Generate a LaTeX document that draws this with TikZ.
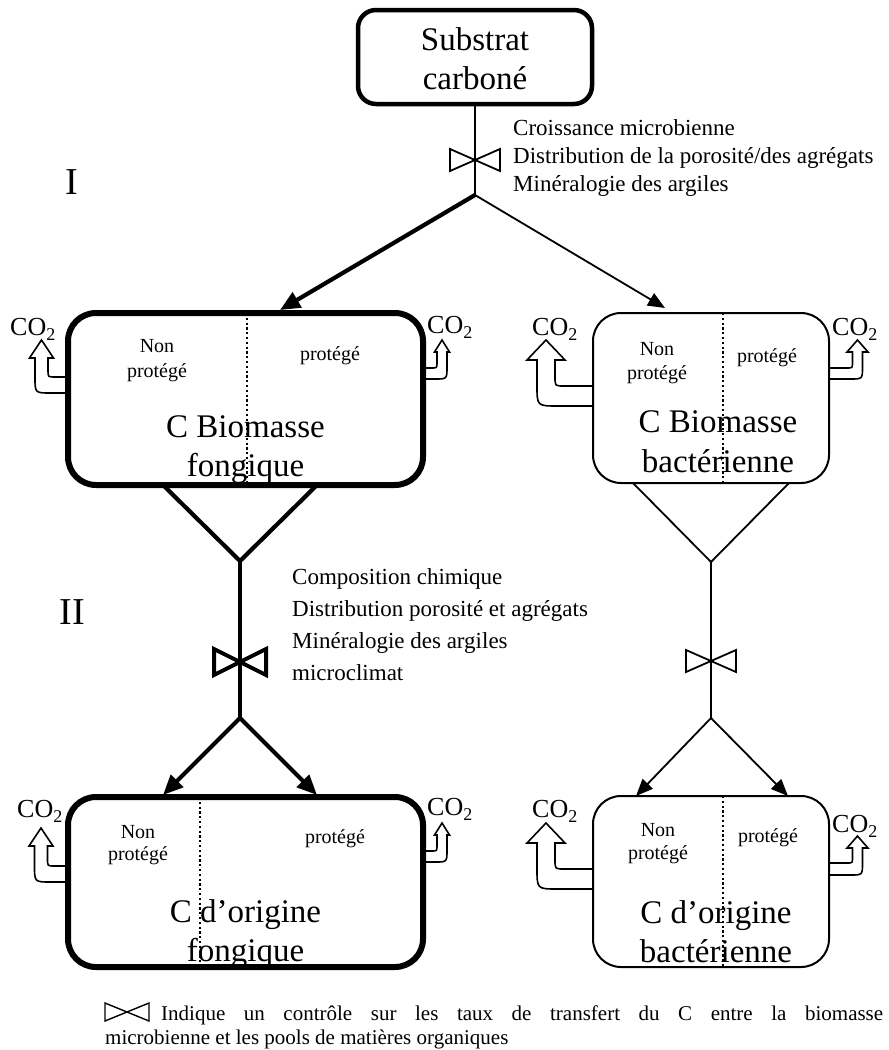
\documentclass[tikz,border=0pt]{standalone}
\usepackage{fontspec}
\setmainfont{Liberation Serif}
\usetikzlibrary{arrows.meta}
\newcommand\fsz[2]{\fontsize{#1}{#2}\selectfont}
\newcommand\cotwo[8]{%
 \pgfmathsetmacro\coD{(#1>#2)?1:-1}%
 \pgfmathsetmacro\coXi{#2+\coD*#3}%
 \pgfmathsetmacro\coXo{#2-\coD*#3}%
 \pgfmathsetmacro\coRa{0.35*(#4-#6)}%
 \pgfmathsetmacro\coRb{0.45*(#5-#6)}%
 \draw[coarr] (#1,#4) -- ({\coXi+\coD*\coRa},#4) .. controls (\coXi,#4) .. (\coXi,{#4-\coRa}) -- (\coXi,#6) -- ({#2+\coD*#7},#6) -- (#2,#8) -- ({#2-\coD*#7},#6) -- (\coXo,#6) -- (\coXo,{#5-\coRb}) .. controls (\coXo,#5) .. ({\coXo+\coD*\coRb},#5) -- (#1,#5);
}
\newcommand\valvesym[5]{%
 \draw[#5, line join=miter, fill=white] (#1,#2) -- ({#1-#3},{#2-#4}) -- ({#1-#3},{#2+#4}) -- cycle;
 \draw[#5, line join=miter, fill=white] (#1,#2) -- ({#1+#3},{#2-#4}) -- ({#1+#3},{#2+#4}) -- cycle;
}
\newcommand\cotxt{CO\raisebox{-5pt}{\fsz{18}{18}2}}
\tikzset{
 thk/.style={line width=4.2pt},
 thn/.style={line width=1.8pt},
 coarr/.style={draw, fill=white, line width=1.6pt, line join=miter},
 fbox/.style={draw, line width=6pt, rounded corners=28pt, inner sep=0},
 bbox/.style={draw, line width=2pt, rounded corners=28pt, inner sep=0},
 sbox/.style={draw, line width=4.5pt, rounded corners=18pt, inner sep=0},
 dotln/.style={line width=2pt, dash pattern=on 2.2pt off 2.6pt},
 big/.style={inner sep=0, anchor=base, font=\fsz{33}{39}},
 small/.style={inner sep=0, anchor=base, font=\fsz{20}{24}},
 lab/.style={inner sep=0, anchor=base west, font=\fsz{23}{28}},
 co/.style={inner sep=0, anchor=base west, font=\fsz{26}{30}},
 roman/.style={inner sep=0, font=\fsz{38}{40}},
 thkarr/.style={thk, -{Triangle[length=20pt,width=17pt]}},
 thnarr/.style={thn, -{Triangle[length=17pt,width=14pt]}},
}
\begin{document}
\begin{tikzpicture}[x=1pt,y=-1pt]
\useasboundingbox (0,0) rectangle (889,1050);

% CO2 arrows (drawn first, boxes cover the joins)
\cotwo{68}{41.5}{6.5}{377}{393}{358}{12}{340}
\cotwo{423}{442}{5}{368}{379}{352}{7.5}{340}
\cotwo{593}{546}{9}{386}{406}{360}{19}{340}
\cotwo{829}{857.5}{5}{368}{379}{352}{10.5}{340}
\cotwo{68}{41}{6.5}{866}{882}{846}{12}{828}
\cotwo{423}{442}{5}{851}{862}{835}{7.5}{823}
\cotwo{593}{546}{9}{869}{889}{843}{19}{823}
\cotwo{829}{857.5}{5}{863}{875}{848}{10.5}{836}

% boxes
\node[sbox, minimum width=234pt, minimum height=94pt] (sub) at (475,57) {};
\node[fbox, minimum width=355pt, minimum height=172pt] (fb) at (245.5,399) {};
\node[bbox, minimum width=236pt, minimum height=170pt] (bb) at (711,398) {};
\node[fbox, minimum width=355pt, minimum height=170pt] (fo) at (245.5,882) {};
\node[bbox, minimum width=236pt, minimum height=171pt] (bo) at (711,881.5) {};

% substrate text
\node[big] (s1) at (475,50) {Substrat};
\node[big] (s2) at (475,89) {carboné};

% top connections
\coordinate (j1) at (475,195);
\coordinate (t1) at (280,310);
\coordinate (t2) at (665,308);
\draw[thn] (sub.south) -- (j1);
\draw[thkarr] (j1) -- (t1);
\draw[thnarr] (j1) -- (t2);
\valvesym{475}{160}{25}{11}{thn}

% fungal V and valve
\coordinate (fv1) at (163,485);
\coordinate (fv2) at (317,485);
\coordinate (fj) at (240,561);
\coordinate (fk) at (240,718);
\coordinate (fa1) at (163,795);
\coordinate (fa2) at (317,795);
\draw[thk] (fv1) -- (fj) -- (fv2);
\draw[thk] (fj) -- (fk);
\draw[thkarr] (fk) -- (fa1);
\draw[thkarr] (fk) -- (fa2);
\valvesym{240}{662}{26}{13}{line width=4pt}

% bacterial V and valve
\coordinate (bv1) at (633,483);
\coordinate (bv2) at (789,483);
\coordinate (bj) at (711,562);
\coordinate (bk) at (711,718);
\coordinate (ba1) at (636,796);
\coordinate (ba2) at (788,796);
\draw[thn] (bv1) -- (bj) -- (bv2);
\draw[thn] (bj) -- (bk);
\draw[thnarr] (bk) -- (ba1);
\draw[thnarr] (bk) -- (ba2);
\valvesym{711}{661}{25}{11}{thn}

% texts in boxes
\node[small] (f1a) at (157,352) {Non};
\node[small] (f1b) at (157,377) {protégé};
\node[small] (f1c) at (330,360) {protégé};
\node[big] (f1d) at (245.5,437) {C Biomasse};
\node[big] (f1e) at (245.5,476) {fongique};

\node[small] (b1a) at (657,355) {Non};
\node[small] (b1b) at (657,379) {protégé};
\node[small] (b1c) at (767,362) {protégé};
\node[big] (b1d) at (718,432) {C Biomasse};
\node[big] (b1e) at (718,472) {bactérienne};

\node[small] (f2a) at (138,838) {Non};
\node[small] (f2b) at (138,860) {protégé};
\node[small] (f2c) at (335,843) {protégé};
\node[big] (f2d) at (245.5,922) {C d’origine};
\node[big] (f2e) at (245.5,961) {fongique};

\node[small] (b2a) at (658,836) {Non};
\node[small] (b2b) at (658,859) {protégé};
\node[small] (b2c) at (768,842) {protégé};
\node[big] (b2d) at (716,923) {C d’origine};
\node[big] (b2e) at (716,962) {bactérienne};

% dotted separators
\draw[dotln] (247,313) -- (247,485);
\draw[dotln] (723,313) -- (723,483);
\draw[dotln] (200,797) -- (200,967);
\draw[dotln] (723,796) -- (723,967);

% CO2 labels
\node[co] (c1) at (10,335) {\cotxt};
\node[co] (c2) at (427,333) {\cotxt};
\node[co] (c3) at (532,335) {\cotxt};
\node[co] (c4) at (832,335) {\cotxt};
\node[co] (c5) at (17,817) {\cotxt};
\node[co] (c6) at (427,815) {\cotxt};
\node[co] (c7) at (532,817) {\cotxt};
\node[co] (c8) at (832,832) {\cotxt};

% side labels
\node[lab] (l1) at (513,135) {Croissance microbienne};
\node[lab] (l2) at (513,163) {Distribution de la porosité/des agrégats};
\node[lab] (l3) at (513,191) {Minéralogie des argiles};
\node[lab] (m1) at (292,584) {Composition chimique};
\node[lab] (m2) at (292,616) {Distribution porosité et agrégats};
\node[lab] (m3) at (292,648) {Minéralogie des argiles};
\node[lab] (m4) at (292,680) {microclimat};

\node[roman] (r1) at (72,182) {I};
\node[roman] (r2) at (72,612) {II};

% legend
\valvesym{127}{1012}{22}{9}{line width=1.4pt}
\node[inner sep=0, anchor=base west, text width=778pt, align=justify, font=\fsz{21}{24}] (leg) at (105,1020)
 {\hspace*{56pt}Indique un contrôle sur les taux de transfert du C entre la biomasse\linebreak microbienne et les pools de matières organiques};
\end{tikzpicture}
\end{document}
